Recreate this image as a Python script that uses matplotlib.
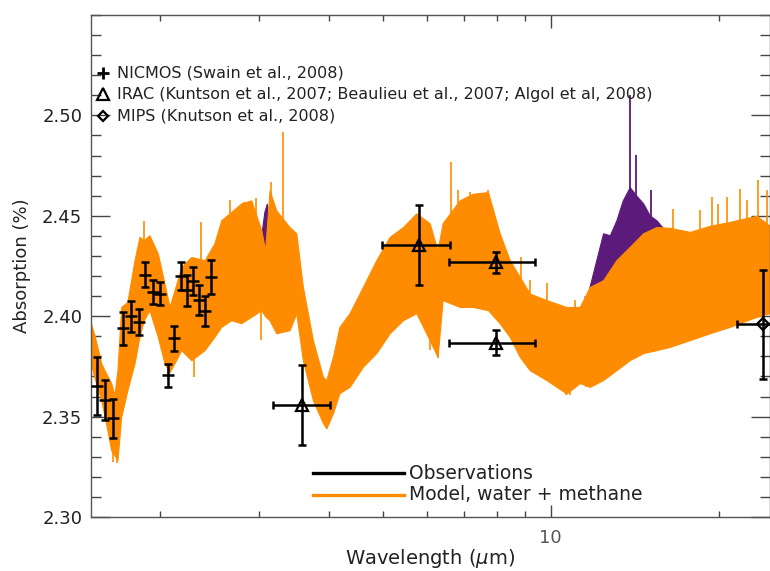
import matplotlib.pyplot as plt
import numpy as np
from matplotlib.ticker import FixedLocator, NullFormatter, FormatStrFormatter, MultipleLocator

# model spectrum (water + methane), outer envelope
model_wl = [1.50, 1.524, 1.566, 1.594, 1.632, 1.654, 1.675, 1.701, 1.745, 1.797,
            1.834, 1.867, 1.911, 1.978, 2.033, 2.076, 2.119, 2.179, 2.271, 2.399,
            2.498, 2.570, 2.678, 2.791, 2.908, 3.031, 3.08, 3.136, 3.224, 3.405,
            3.502, 3.598, 3.750, 3.908, 3.963, 4.073, 4.184, 4.362, 4.609, 4.870,
            5.146, 5.437, 5.744, 6.069, 6.271, 6.403, 6.869, 7.256, 7.721, 8.101,
            8.444, 8.798, 9.170, 9.824, 10.67, 11.27, 11.75, 12.41, 13.11, 13.85,
            14.64, 15.46, 16.34, 17.75, 19.27, 20.94, 23.37, 24.69]
model_top = [2.3965, 2.3905, 2.3766, 2.3721, 2.3667, 2.3607, 2.3731, 2.4046, 2.4071, 2.4279,
             2.4395, 2.4378, 2.4403, 2.4313, 2.4164, 2.4046, 2.4129, 2.4245, 2.4295, 2.4279,
             2.4363, 2.4478, 2.4519, 2.4562, 2.4577, 2.4428, 2.4328, 2.4627, 2.4527, 2.4444,
             2.4413, 2.4146, 2.3881, 2.3698, 2.3682, 2.3798, 2.3947, 2.4015, 2.4146, 2.4279,
             2.4395, 2.4444, 2.4512, 2.4463, 2.4328, 2.4463, 2.4577, 2.4610, 2.4618, 2.4413,
             2.4279, 2.4196, 2.4113, 2.4080, 2.4046, 2.4046, 2.4146, 2.4179, 2.4279, 2.4345,
             2.4413, 2.4444, 2.444, 2.442, 2.445, 2.447, 2.450, 2.445]
model_bot = [2.3766, 2.3692, 2.3582, 2.3483, 2.3333, 2.3308, 2.3284, 2.3499, 2.3632, 2.3766,
             2.3897, 2.3980, 2.4030, 2.3897, 2.3766, 2.3721, 2.3766, 2.3831, 2.3781, 2.3831,
             2.3897, 2.3947, 2.3980, 2.3965, 2.3997, 2.4030, 2.400, 2.3980, 2.3915, 2.3930,
             2.4015, 2.3781, 2.3582, 2.3468, 2.3441, 2.3517, 2.3617, 2.3648, 2.3748, 2.3816,
             2.3915, 2.3980, 2.4015, 2.3881, 2.3798, 2.4080, 2.4046, 2.4046, 2.4030, 2.3965,
             2.3897, 2.3798, 2.3731, 2.3682, 2.3615, 2.3667, 2.3648, 2.3682, 2.3731, 2.3781,
             2.3816, 2.3831, 2.3847, 2.3881, 2.3915, 2.3947, 2.3997, 2.4015]

# isolated spikes of the model (upward and downward)
spike_wl = [1.643, 1.675, 1.867, 2.059, 2.301, 2.366, 2.659, 2.826, 2.963, 3.03, 3.151,
            3.29, 3.313, 6.07, 6.28, 6.638, 6.82, 7.16, 7.72, 8.86, 9.05, 9.17, 9.85,
            10.67, 10.81, 11.04, 11.58, 16.56, 18.49, 19.41, 19.94, 20.65, 21.82, 22.42,
            23.52, 24.35]
spike_lo = [2.3274, 2.3269, 2.420, 2.3682, 2.3698, 2.410, 2.440, 2.440, 2.440, 2.388, 2.430,
            2.393, 2.400, 2.383, 2.379, 2.420, 2.445, 2.445, 2.445, 2.400, 2.3766, 2.400, 2.390,
            2.3607, 2.3607, 2.395, 2.3648, 2.43, 2.43, 2.43, 2.43, 2.43, 2.43, 2.43,
            2.43, 2.43]
spike_hi = [2.345, 2.345, 2.4474, 2.385, 2.390, 2.4469, 2.4577, 2.4569, 2.4587, 2.405, 2.4668,
            2.405, 2.4917, 2.395, 2.395, 2.4768, 2.4627, 2.4618, 2.4627, 2.4295, 2.390, 2.418, 2.4163,
            2.375, 2.375, 2.408, 2.378, 2.4536, 2.4527, 2.4594, 2.4561, 2.4594, 2.4635, 2.4577,
            2.4677, 2.4627]

# methane features showing above the orange model
ch4_wl_a = [3.03, 3.07, 3.10, 3.14]
ch4_top_a = [2.440, 2.452, 2.456, 2.445]
ch4_wl_b = [11.5, 11.94, 12.41, 12.76, 13.11, 13.46, 13.85, 14.24, 14.64, 15.04, 15.46, 16.01, 16.5]
ch4_top_b = [2.405, 2.4229, 2.4413, 2.4403, 2.4478, 2.4577, 2.4643, 2.460, 2.4562, 2.4502, 2.4478, 2.4428, 2.438]
ch4_spike_wl = [13.85, 14.24, 15.15]
ch4_spike_hi = [2.510, 2.4801, 2.4627]

# NICMOS (Swain et al., 2008)
nic_wl = [1.538, 1.588, 1.647, 1.712, 1.770, 1.827, 1.880, 1.943, 2.000, 2.059, 2.111,
          2.173, 2.227, 2.286, 2.343, 2.405, 2.459]
nic_val = [2.3653, 2.3582, 2.3491, 2.3939, 2.4000, 2.3972, 2.4207, 2.4121, 2.4113, 2.3706, 2.3889,
           2.4200, 2.4129, 2.4174, 2.4080, 2.4026, 2.4195]
nic_err = [0.0146, 0.010, 0.0097, 0.008, 0.0077, 0.0066, 0.0064, 0.006, 0.0057, 0.0058, 0.006,
           0.0069, 0.0078, 0.0069, 0.0075, 0.0073, 0.0085]

# IRAC
irac_wl = [3.58, 5.80, 7.99, 7.99]
irac_val = [2.3557, 2.4353, 2.4269, 2.3867]
irac_err = [0.020, 0.020, 0.0052, 0.0062]
irac_xlo = [3.18, 4.99, 6.57, 6.57]
irac_xhi = [4.02, 6.59, 9.39, 9.39]

# MIPS
mips_wl = [24.0]
mips_val = [2.3959]
mips_err = [0.027]
mips_xlo = [21.6]
mips_xhi = [26.6]

orange = "#ff8c00"
purple = "#5c1a7a"

fig = plt.figure(figsize=(7.7, 5.71), dpi=100)
ax = fig.add_axes([0.1178, 0.0946, 0.8822, 0.8791])

# model
ax.fill_between(ch4_wl_a, 2.42, ch4_top_a, color=purple, lw=0.8, zorder=1)
ax.fill_between(ch4_wl_b, 2.41, ch4_top_b, color=purple, lw=0.8, zorder=1)
ax.vlines(ch4_spike_wl, 2.44, ch4_spike_hi, color=purple, lw=1.3, zorder=1)
ax.fill_between(model_wl, model_bot, model_top, color=orange, lw=0.8, zorder=2)
ax.vlines(spike_wl, spike_lo, spike_hi, color=orange, lw=1.2, zorder=2)

# observations
ekw = dict(fmt="none", ecolor="black", elinewidth=1.8, capsize=3, capthick=1.8, zorder=4)
ax.errorbar(nic_wl, nic_val, yerr=nic_err, **ekw)
ax.plot(nic_wl, nic_val, ls="none", marker="_", ms=8, mew=1.8, color="black", zorder=5)

irac_x = np.array(irac_wl)
xerr = [irac_x - np.array(irac_xlo), np.array(irac_xhi) - irac_x]
ax.errorbar(irac_wl, irac_val, yerr=irac_err, xerr=xerr, **ekw)
ax.plot(irac_wl, irac_val, ls="none", marker="^", ms=9, mew=1.6, mfc="none",
        mec="black", zorder=5)

mips_x = np.array(mips_wl)
mxerr = [mips_x - np.array(mips_xlo), np.array(mips_xhi) - mips_x]
ax.errorbar(mips_wl, mips_val, yerr=mips_err, xerr=mxerr, **ekw)
ax.plot(mips_wl, mips_val, ls="none", marker="D", ms=6, mew=1.6, mfc="none",
        mec="black", zorder=5)

# axes
ax.set_xscale("log")
ax.set_xlim(1.5, 24.7)
ax.set_ylim(2.30, 2.55)
ax.xaxis.set_major_locator(FixedLocator([10]))
ax.xaxis.set_minor_locator(FixedLocator([2, 3, 4, 5, 6, 7, 8, 9, 20]))
ax.xaxis.set_major_formatter(FormatStrFormatter("%d"))
ax.xaxis.set_minor_formatter(NullFormatter())
ax.yaxis.set_major_locator(FixedLocator([2.30, 2.35, 2.40, 2.45, 2.50]))
ax.yaxis.set_minor_locator(MultipleLocator(0.01))
ax.yaxis.set_major_formatter(FormatStrFormatter("%.2f"))

ax.tick_params(which="both", direction="in", top=True, right=True, color="#444444", width=1)
ax.tick_params(axis="x", which="major", length=9, labelsize=13, pad=9, labelcolor="#555555")
ax.tick_params(axis="x", which="minor", length=4)
ax.tick_params(axis="y", which="major", length=14, labelsize=13, pad=6, labelcolor="#222222")
ax.tick_params(axis="y", which="minor", length=7)
for s in ax.spines.values():
    s.set_color("#555555")
    s.set_linewidth(1)

ax.set_xlabel("Wavelength ($\\mu$m)", fontsize=14, color="#222222", labelpad=0)
ax.set_ylabel("Absorption (%)", fontsize=13, color="#222222", labelpad=8)

# instrument key (top left)
key = [("+", "NICMOS (Swain et al., 2008)", 0.885),
       ("^", "IRAC (Kuntson et al., 2007; Beaulieu et al., 2007; Algol et al, 2008)", 0.8426),
       ("D", "MIPS (Knutson et al., 2008)", 0.7988)]
for mk, label, yy in key:
    ms = 8 if mk == "+" else (8 if mk == "^" else 5.5)
    ax.plot([0.0181], [yy], marker=mk, ms=ms, mew=2 if mk == "+" else 1.6,
            mfc="none", mec="black", color="black", ls="none",
            transform=ax.transAxes, clip_on=False, zorder=6)
    ax.text(0.0388, yy, label, transform=ax.transAxes, fontsize=11.5,
            va="center", ha="left", color="#222222")

# line key (bottom)
ax.plot([0.3273, 0.4608], [0.0876, 0.0876], color="black", lw=2.4, transform=ax.transAxes)
ax.plot([0.3273, 0.4608], [0.0438, 0.0438], color=orange, lw=2.4, transform=ax.transAxes)
ax.text(0.4688, 0.0876, "Observations", transform=ax.transAxes, fontsize=13.5,
        va="center", ha="left", color="#222222")
ax.text(0.4688, 0.0438, "Model, water + methane", transform=ax.transAxes, fontsize=13.5,
        va="center", ha="left", color="#222222")

plt.savefig("out.png", dpi=100)
